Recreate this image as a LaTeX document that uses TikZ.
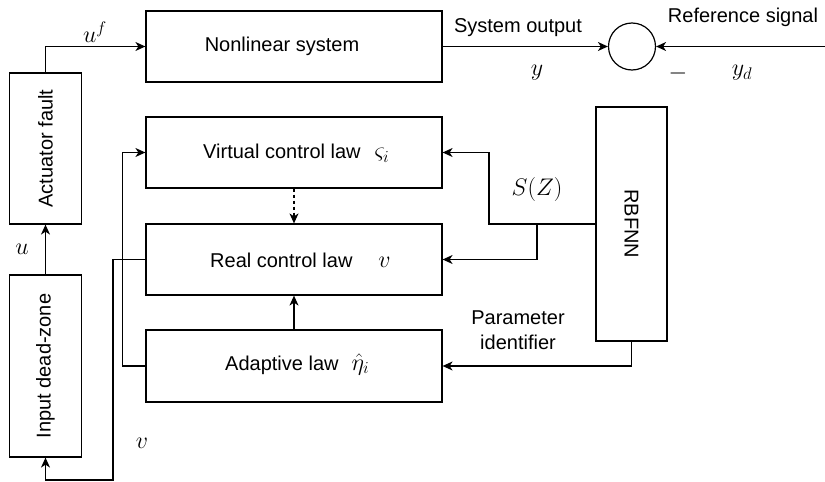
\RequirePackage{fix-cm}
\documentclass[tikz,border=0pt]{standalone}
\usepackage{fontspec}
\setmainfont{Liberation Sans}
\usetikzlibrary{arrows.meta}
\newcommand{\lgmath}[1]{{\fontsize{24}{28}\selectfont$#1$}}
\begin{document}
\begin{tikzpicture}[x=1pt,y=-1pt,
  every node/.style={font=\fontsize{20}{24}\selectfont},
  blk/.style={draw,line width=1.2pt,minimum width=296pt,minimum height=71pt,inner sep=0pt},
  vblk/.style={draw,line width=1.2pt,minimum width=71.5pt,inner sep=0pt},
  arr/.style={line width=1.2pt,-{Stealth[length=10pt,width=9pt,inset=3pt]}},
  lbl/.style={inner sep=0pt},
  blbl/.style={inner sep=0pt,anchor=west},
  mlbl/.style={inner sep=0pt,font=\fontsize{24}{28}\selectfont}]
\useasboundingbox (0,0) rectangle (825,482);

% main blocks
\node[blk] (ns)  at (294,46.5)  {};
\node[lbl] at (282,46.5) {Nonlinear system};
\node[blk] (vcl) at (294,152.5) {};
\node[blbl] at (203,153) {Virtual control law\hspace{14pt}\lgmath{\varsigma_i}};
\node[blk] (rcl) at (294,259.5) {};
\node[blbl] at (210,260) {Real control law\hspace{26pt}\lgmath{v}};
\node[blk,minimum height=72pt] (adl) at (294,366) {};
\node[blbl] at (225,364) {Adaptive law\hspace{13pt}\lgmath{\hat{\eta}_i}};

% left column blocks (rotated text)
\node[vblk,minimum height=151pt] (af) at (45.5,148.5) {\rotatebox{90}{Actuator fault}};
\node[vblk,minimum height=182pt] (dz) at (45.5,366) {\rotatebox{90}{Input dead-zone}};

% RBF neural network
\node[vblk,minimum width=71pt,minimum height=234pt] (rb) at (631.5,224) {\rotatebox{-90}{RBFNN}};

% summing junction
\node[draw,circle,line width=1.2pt,minimum size=47pt,inner sep=0pt] (sum) at (632,46.5) {};
\coordinate (ref) at (825,46.5);

% coordinates for the routed connectors
\coordinate (vb1) at (113,259.5);
\coordinate (vb2) at (113,480);
\coordinate (vb3) at (45.5,480);
\coordinate (al1) at (122.5,366);
\coordinate (al2) at (122.5,152.5);
\coordinate (sz1) at (489,224);
\coordinate (sz2) at (537,224);

% connectors
\draw[arr] (af.north) |- (ns.west);
\draw[arr] (dz.north) -- (af.south);
\draw[arr] (rcl.west) -- (vb1) -- (vb2) -- (vb3) -- (dz.south);
\draw[arr] (adl.west) -- (al1) -- (al2) -- (vcl.west);
\draw[arr,dashed] (vcl.south) -- (rcl.north);
\draw[arr] (adl.north) -- (rcl.south);
\draw[arr] (rb.west) -- (sz1) |- (vcl.east);
\draw[arr] (sz2) |- (rcl.east);
\draw[arr] (rb.south) |- (adl.east);
\draw[arr] (ns.east) -- (sum.west);
\draw[arr] (ref) -- (sum.east);

% labels
\node[mlbl] at (95,32) {$u^f$};
\node[mlbl] at (22,249) {$u$};
\node[mlbl] at (142,443) {$v$};
\node[lbl] at (518,28) {System output};
\node[lbl] at (743,17) {Reference signal};
\node[mlbl] at (537,73) {$y$};
\node[mlbl] at (678,73) {$-$};
\node[mlbl] at (742,73) {$y_d$};
\node[mlbl] at (537,189) {$S(Z)$};
\node[lbl,align=center,font=\fontsize{20}{25}\selectfont] at (518,330) {Parameter\\identifier};
\end{tikzpicture}
\end{document}
